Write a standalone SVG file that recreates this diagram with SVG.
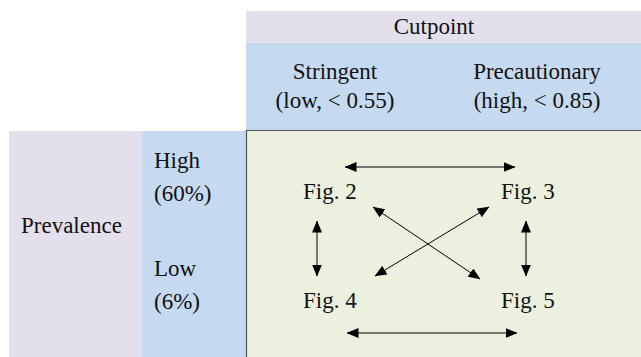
<svg xmlns="http://www.w3.org/2000/svg" width="641" height="357" viewBox="0 0 641 357">
  <defs>
    <marker id="head" viewBox="0 0 12 10" refX="11.5" refY="5" markerWidth="12" markerHeight="10" markerUnits="userSpaceOnUse" orient="auto-start-reverse">
      <path d="M0,0 L12,5 L0,10 Z" fill="#000"/>
    </marker>
  </defs>
  <style>
    .lbl { font-family: 'Liberation Serif', 'Times New Roman', serif; font-size: 23px; fill: #111; }
    .mid { text-anchor: middle; }
    .conn line { stroke: #000; stroke-width: 1; marker-start: url(#head); marker-end: url(#head); }
  </style>

  <!-- background bands -->
  <rect x="0" y="0" width="641" height="357" fill="#fff"/>

  <g id="cutpoint-header">
    <rect x="246" y="11" width="395" height="32" fill="#E4DFEC"/>
    <text class="lbl mid" x="434" y="34">Cutpoint</text>
  </g>
  <g id="cutpoint-levels">
    <rect x="246" y="43" width="395" height="88" fill="#C5D9F1"/>
    <text class="lbl mid" x="335" y="79">Stringent</text>
    <text class="lbl mid" x="335" y="108">(low, &lt; 0.55)</text>
    <text class="lbl mid" x="537" y="79">Precautionary</text>
    <text class="lbl mid" x="537" y="108">(high, &lt; 0.85)</text>
  </g>
  <g id="prevalence-header">
    <rect x="9" y="131" width="133" height="226" fill="#E4DFEC"/>
    <text class="lbl" x="21" y="233">Prevalence</text>
  </g>
  <g id="prevalence-levels">
    <rect x="142" y="131" width="104" height="226" fill="#C5D9F1"/>
    <text class="lbl" x="154" y="168">High</text>
    <text class="lbl" x="154" y="201">(60%)</text>
    <text class="lbl" x="154" y="276">Low</text>
    <text class="lbl" x="154" y="309">(6%)</text>
  </g>
  <g id="grid-panel">
    <rect x="246" y="131" width="395" height="226" fill="#EBF1DE"/>
    <path d="M246.5,357 V130.5 H641" fill="none" stroke="#555" stroke-width="1.2"/>
  </g>

  <g id="fig2"><text class="lbl" x="303" y="199">Fig. 2</text></g>
  <g id="fig3"><text class="lbl" x="501" y="199">Fig. 3</text></g>
  <g id="fig4"><text class="lbl" x="303" y="308">Fig. 4</text></g>
  <g id="fig5"><text class="lbl" x="501" y="308">Fig. 5</text></g>

  <g id="connectors" class="conn">
    <line x1="345" y1="167" x2="515" y2="167"/>
    <line x1="347" y1="333" x2="517" y2="333"/>
    <line x1="317" y1="221" x2="317" y2="276"/>
    <line x1="526" y1="221" x2="526" y2="276"/>
    <line x1="373" y1="207" x2="480" y2="279"/>
    <line x1="489" y1="207" x2="375" y2="276"/>
  </g>
</svg>
